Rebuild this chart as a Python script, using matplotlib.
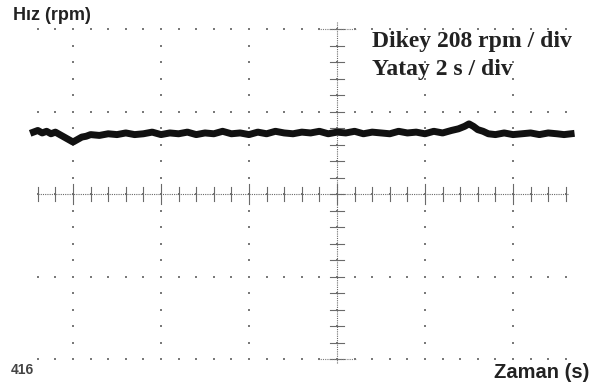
import numpy as np
import matplotlib
matplotlib.use('Agg')
from matplotlib import pyplot as plt

trace_x_div = [-0.45, -0.40, -0.35, -0.30, -0.25, -0.20, -0.15, -0.10, -0.05, 0.00,
               0.05, 0.10, 0.15, 0.20, 0.30, 0.40, 0.50, 0.60, 0.70, 0.80, 0.90,
               1.00, 1.10, 1.20, 1.30, 1.40, 1.50, 1.60, 1.70, 1.80, 1.90, 2.00,
               2.10, 2.20, 2.30, 2.40, 2.50, 2.60, 2.70, 2.80, 2.90, 3.00, 3.10,
               3.20, 3.30, 3.40, 3.50, 3.60, 3.70, 3.80, 3.90, 4.00, 4.10, 4.20,
               4.30, 4.38, 4.45, 4.50, 4.55, 4.60, 4.66, 4.72, 4.80, 4.90, 5.00,
               5.10, 5.20, 5.30, 5.40, 5.50, 5.58, 5.66]
trace_y_div = [0.75, 0.77, 0.74, 0.76, 0.73, 0.75, 0.72, 0.69, 0.66, 0.63,
               0.66, 0.69, 0.70, 0.72, 0.71, 0.73, 0.72, 0.74, 0.72, 0.73, 0.75,
               0.72, 0.74, 0.73, 0.75, 0.72, 0.74, 0.73, 0.76, 0.73, 0.74, 0.72,
               0.75, 0.73, 0.76, 0.74, 0.73, 0.75, 0.74, 0.76, 0.73, 0.75, 0.74,
               0.76, 0.73, 0.75, 0.74, 0.73, 0.76, 0.74, 0.75, 0.73, 0.76, 0.74,
               0.77, 0.79, 0.82, 0.85, 0.82, 0.78, 0.76, 0.73, 0.72, 0.74, 0.72,
               0.73, 0.74, 0.72, 0.74, 0.73, 0.72, 0.73]

row_levels = [-2, -1, 0, 1, 2]
col_levels = [0, 1, 2, 3, 4, 5]
centre_x, centre_y = 3, 0

fig = plt.figure(figsize=(5.98, 3.87), dpi=100)
ax = fig.add_axes([0, 0, 1, 1])
ax.axis('off')
ax.set_xlim(-73 / 88, (598 - 73) / 88)
ax.set_ylim((194 - 387) / 82.5, 194 / 82.5)

dot = dict(color='#7a7a7a', s=3, marker='s', linewidths=0)
minor_x = np.arange(-0.4, 5.61, 0.2)
minor_y = np.arange(-2, 2.01, 0.2)

# Dotted graticule
for r in row_levels:
    ax.scatter(minor_x, np.full_like(minor_x, r), **dot)
for c in col_levels:
    ax.scatter(np.full_like(minor_y, c), minor_y, **dot)

# Centre axes with ticks
ax.plot([-0.4, 5.62], [centre_y, centre_y], color='#6a6a6a', lw=0.8, ls=(0, (1, 1)))
ax.plot([centre_x, centre_x], [-2.05, 2.08], color='#6a6a6a', lw=0.8, ls=(0, (1, 1)))
for x in minor_x:
    h = 0.12 if abs(x - round(x)) < 1e-6 else 0.08
    ax.plot([x, x], [-h, h], color='#6a6a6a', lw=0.8)
for y in minor_y:
    ax.plot([centre_x - 0.08, centre_x + 0.08], [y, y], color='#6a6a6a', lw=0.8)
for y in [2, -2]:
    ax.plot([centre_x - 0.22, centre_x + 0.22], [y, y], color='#7a7a7a', lw=0.8, ls=(0, (1, 1)))

# Signal trace
ax.plot(trace_x_div, trace_y_div, color='#111111', lw=5, solid_joinstyle='round')

# Labels
fig.text(13 / 598, 1 - 15 / 387, 'Hız (rpm)', fontsize=13, fontweight='bold',
         family='Liberation Sans', color='#222222', va='center', ha='left')
fig.text(11 / 598, 1 - 370 / 387, '416', fontsize=10, fontweight='bold',
         family='Liberation Sans', color='#444444', va='center', ha='left')
fig.text(589 / 598, 1 - 372 / 387, 'Zaman (s)', fontsize=14.5, fontweight='bold',
         family='Liberation Sans', color='#222222', va='center', ha='right')
fig.text(372 / 598, 1 - 42 / 387, 'Dikey 208 rpm / div', fontsize=17, fontweight='bold',
         family='Liberation Serif', color='#222222', va='center', ha='left')
fig.text(372 / 598, 1 - 69 / 387, 'Yatay 2 s / div', fontsize=17, fontweight='bold',
         family='Liberation Serif', color='#222222', va='center', ha='left')

plt.savefig('out.png', dpi=100)
